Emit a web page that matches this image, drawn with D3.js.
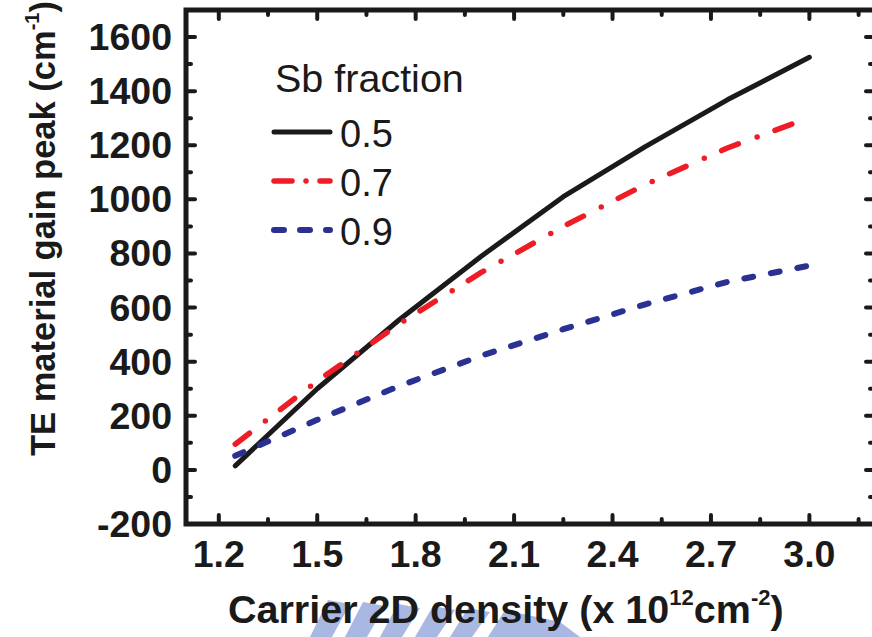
<!DOCTYPE html>
<html>
<head>
<meta charset="utf-8">
<script src="https://cdn.jsdelivr.net/npm/d3@7"></script>
<style>
  body { margin: 0; background: #fff; }
  svg { display: block; }
  text { font-family: "Liberation Sans", Arial, sans-serif; fill: #1a1a1a; }
</style>
</head>
<body>
<svg id="chart" width="872" height="637"></svg>
<script>
// carrier density (x 1e12 cm^-2)
const density = [1.25, 1.5, 1.75, 2.0, 2.25, 2.5, 2.75, 3.0];
// TE material gain peak (cm^-1) per Sb fraction
const gain05 = [15, 300, 555, 790, 1010, 1195, 1368, 1525];
const gain07 = [95, 328, 540, 730, 900, 1055, 1190, 1302];
const gain09 = [52, 185, 310, 422, 520, 612, 695, 755];
const seriesNames = ['0.5', '0.7', '0.9'];
const xTicks = [1.2, 1.5, 1.8, 2.1, 2.4, 2.7, 3.0];
const yTicks = [-200, 0, 200, 400, 600, 800, 1000, 1200, 1400, 1600];

const series = [
  { name: seriesNames[0], values: gain05, color: '#1a1a1a', dash: null, width: 5 },
  { name: seriesNames[1], values: gain07, color: '#ee1c25', dash: '18 20 0 19', width: 5.5 },
  { name: seriesNames[2], values: gain09, color: '#2b3192', dash: '9 18', width: 6 }
];

const svg = d3.select('#chart');
const plotL = 186, plotR = 875, plotT = 10, plotB = 524;

const x = d3.scaleLinear().domain([1.1, 3.2]).range([plotL, plotR]);
const y = d3.scaleLinear().domain([-200, 1700]).range([plotB, plotT]);

// faint watermark at the bottom
const wm = svg.append('g').attr('fill', '#a8b8e2');
[310, 345, 380, 415, 450].forEach((bx, i) => {
  wm.append('path')
    .attr('d', `M${bx},637 L${bx + 18},${600 + i * 2} L${bx + 40},${604 + i * 2} L${bx + 22},637 Z`);
});
wm.append('path').attr('d', 'M488,637 L505,610 L560,622 L580,637 Z');

// curves
const line = d3.line()
  .x((d, i) => x(density[i]))
  .y(d => y(d));

svg.append('g')
  .selectAll('path')
  .data(series)
  .join('path')
  .attr('d', d => line(d.values))
  .attr('fill', 'none')
  .attr('stroke', d => d.color)
  .attr('stroke-width', d => d.width)
  .attr('stroke-linecap', 'round')
  .attr('stroke-linejoin', 'round')
  .attr('stroke-dasharray', d => d.dash);

// frame and ticks
const frame = svg.append('g').attr('stroke', '#1a1a1a').attr('stroke-linecap', 'round');
frame.append('rect')
  .attr('x', plotL).attr('y', plotT)
  .attr('width', plotR - plotL).attr('height', plotB - plotT)
  .attr('fill', 'none').attr('stroke-width', 5);

const xMinor = d3.range(1.35, 3.2, 0.3);
const yMinor = d3.range(-100, 1700, 200);

function xTickMarks(vals, len) {
  vals.forEach(v => {
    frame.append('line').attr('x1', x(v)).attr('x2', x(v))
      .attr('y1', plotB).attr('y2', plotB - len).attr('stroke-width', 4);
    frame.append('line').attr('x1', x(v)).attr('x2', x(v))
      .attr('y1', plotT).attr('y2', plotT + len).attr('stroke-width', 4);
  });
}
function yTickMarks(vals, len) {
  vals.forEach(v => {
    frame.append('line').attr('y1', y(v)).attr('y2', y(v))
      .attr('x1', plotL).attr('x2', plotL + len).attr('stroke-width', 4);
    frame.append('line').attr('y1', y(v)).attr('y2', y(v))
      .attr('x1', plotR).attr('x2', plotR - len).attr('stroke-width', 4);
  });
}
xTickMarks(xTicks, 9);
xTickMarks(xMinor, 5);
yTickMarks(yTicks, 9);
yTickMarks(yMinor, 5);

// tick labels
svg.append('g')
  .selectAll('text')
  .data(xTicks)
  .join('text')
  .attr('x', d => x(d))
  .attr('y', 567)
  .attr('text-anchor', 'middle')
  .attr('font-size', 37.5)
  .attr('font-weight', 'bold')
  .text(d => d.toFixed(1));

svg.append('g')
  .selectAll('text')
  .data(yTicks)
  .join('text')
  .attr('x', 172)
  .attr('y', d => y(d) + 13)
  .attr('text-anchor', 'end')
  .attr('font-size', 37.5)
  .attr('font-weight', 'bold')
  .text(d => d);

// axis titles
const xt = svg.append('text')
  .attr('x', 228).attr('y', 623)
  .attr('font-size', 39.5).attr('font-weight', 'bold');
xt.append('tspan').text('Carrier 2D density (x 10');
xt.append('tspan').attr('font-size', 22).attr('dy', -18).text('12');
xt.append('tspan').attr('dy', 18).text('cm');
xt.append('tspan').attr('font-size', 22).attr('dy', -18).text('-2');
xt.append('tspan').attr('dy', 18).text(')');

const yt = svg.append('text')
  .attr('transform', 'translate(55,456) rotate(-90)')
  .attr('font-size', 34.5).attr('font-weight', 'bold');
yt.append('tspan').text('TE material gain peak (cm');
yt.append('tspan').attr('font-size', 20).attr('dy', -16).text('-1');
yt.append('tspan').attr('dy', 16).text(')');

// legend
const legend = svg.append('g');
legend.append('text')
  .attr('x', 275).attr('y', 92)
  .attr('font-size', 39.5)
  .text('Sb fraction');

const legendY = [132, 181, 230];
legend.selectAll('line')
  .data(series)
  .join('line')
  .attr('x1', 274).attr('x2', 330)
  .attr('y1', (d, i) => legendY[i]).attr('y2', (d, i) => legendY[i])
  .attr('stroke', d => d.color)
  .attr('stroke-width', d => d.width)
  .attr('stroke-linecap', 'round')
  .attr('stroke-dasharray', (d, i) => i === 1 ? '18 14 0 14' : i === 2 ? '10 16' : null);

legend.selectAll('text.item')
  .data(series)
  .join('text')
  .attr('class', 'item')
  .attr('x', 340)
  .attr('y', (d, i) => legendY[i] + 15)
  .attr('font-size', 38)
  .text(d => d.name);
</script>
</body>
</html>
